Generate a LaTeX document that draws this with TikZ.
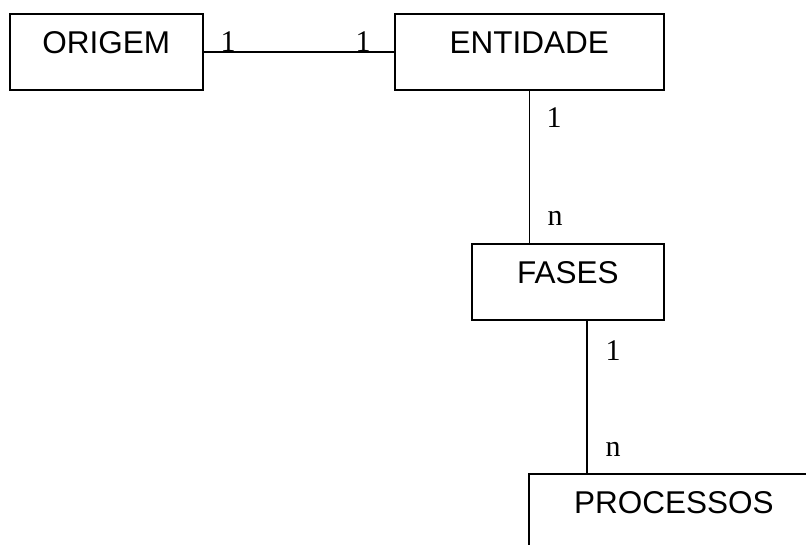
\documentclass[tikz,border=0pt]{standalone}
\usepackage{fontspec}
\setmainfont{Liberation Serif}
\newfontfamily\boxfont{Liberation Sans}
\begin{document}
\begin{tikzpicture}[x=1pt,y=-1pt,
  entbox/.style={draw, line width=1.6pt, rectangle, minimum height=76pt, inner sep=0pt, anchor=north west},
  boxtext/.style={font=\boxfont\fontsize{31.5}{37}\selectfont, inner sep=0pt},
  card/.style={font=\fontsize{30}{36}\selectfont, inner sep=0pt, anchor=base},
  conn/.style={line width=1.6pt}]
\useasboundingbox (0,0) rectangle (806,545);
\node[entbox, minimum width=193pt] (origem) at (9,13) {};
\node[entbox, minimum width=269pt] (entidade) at (394,13) {};
\node[entbox, minimum width=192pt] (fases) at (471,243) {};
\node[entbox, minimum width=290pt] (procs) at (528,473) {};
\node[boxtext] (torigem) at ([yshift=-30pt]origem.north) {ORIGEM};
\node[boxtext] (tentidade) at ([yshift=-30pt]entidade.north) {ENTIDADE};
\node[boxtext] (tfases) at ([yshift=-30pt]fases.north) {FASES};
\node[boxtext] (tprocs) at ([yshift=-30pt]procs.north) {PROCESSOS};
\coordinate (fs) at ([xshift=19pt]fases.south);
\draw[conn] (origem.east) -- (entidade.west);
\draw[conn] (entidade.south) -- (entidade.south |- fases.north);
\draw[conn] (fs) -- (fs |- procs.north);
\node[card] (c1) at (228,52) {1};
\node[card] (c2) at (363,52) {1};
\node[card] (c3) at (554,128) {1};
\node[card] (c4) at (555,226) {n};
\node[card] (c5) at (613,360) {1};
\node[card] (c6) at (613,456) {n};
\end{tikzpicture}
\end{document}
